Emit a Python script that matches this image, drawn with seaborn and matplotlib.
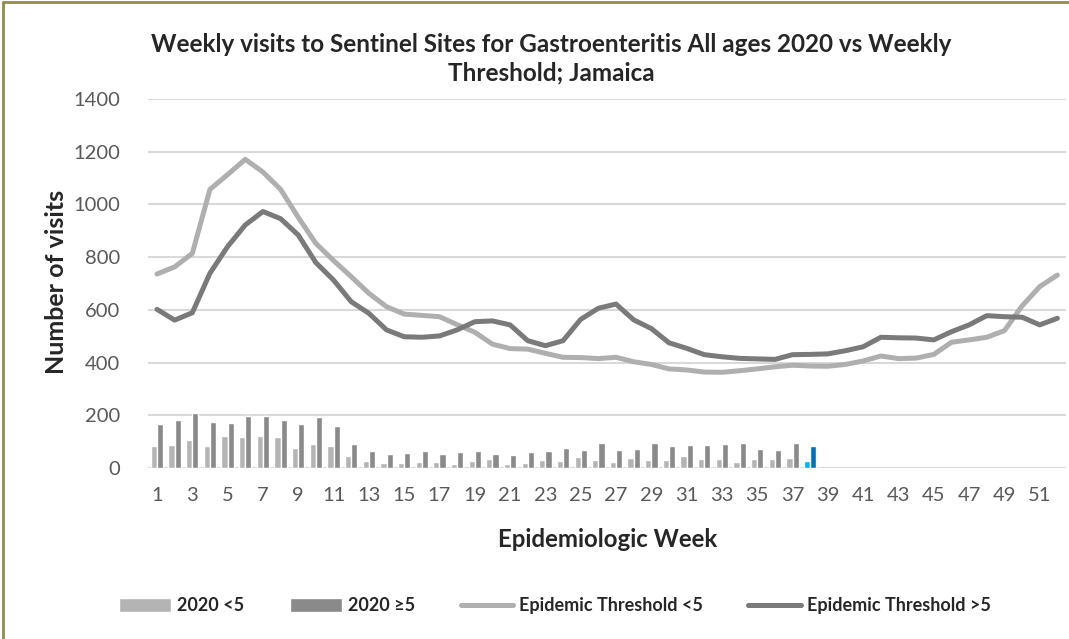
import numpy as np
import pandas as pd
import seaborn as sns
import matplotlib.pyplot as plt
from matplotlib.lines import Line2D
from matplotlib.patches import Patch

weeks = list(range(1, 53))

# 2020 weekly visits (weeks 1-38 reported)
under5_2020 = [84, 89, 107, 84, 122, 118, 121, 118, 77, 92, 84, 44, 26, 18, 18, 24, 23, 15, 26,
               33, 15, 20, 31, 28, 42, 31, 24, 39, 30, 31, 44, 36, 36, 24, 34, 35, 39, 28]
over5_2020 = [166, 182, 209, 175, 172, 199, 196, 182, 167, 194, 160, 91, 65, 55, 58, 64, 52, 60, 65,
              53, 50, 62, 64, 77, 69, 94, 69, 73, 96, 84, 87, 87, 91, 94, 72, 67, 94, 84]

# epidemic thresholds
threshold_under5 = [736, 763, 814, 1057, 1113, 1171, 1123, 1057, 951, 852, 787, 726, 663, 612, 584,
                    579, 574, 544, 515, 470, 453, 451, 435, 420, 419, 415, 420, 403, 393, 376, 372,
                    364, 363, 369, 376, 384, 390, 387, 386, 393, 406, 425, 415, 417, 431, 477, 486,
                    496, 521, 615, 688, 732]
threshold_over5 = [602, 561, 589, 739, 840, 922, 973, 946, 884, 779, 713, 631, 587, 524, 498, 496,
                   501, 524, 555, 558, 543, 483, 464, 483, 564, 606, 622, 562, 529, 475, 454, 430,
                   422, 416, 414, 412, 430, 431, 433, 445, 460, 496, 494, 493, 486, 517, 543, 578,
                   574, 572, 543, 568]

sns.set_theme(style="white")
plt.rcParams["font.family"] = ["Lato", "DejaVu Sans"]

fig = plt.figure(figsize=(10.69, 6.39), dpi=100)
ax = fig.add_axes([0.1386, 0.2676, 0.8588, 0.5775])

n = len(under5_2020)
bars = pd.DataFrame({
    "Week": [str(w) for w in weeks[:n]] * 2,
    "Visits": under5_2020 + over5_2020,
    "Group": ["2020 <5"] * n + ["2020 ≥5"] * n,
})
sns.barplot(data=bars, x="Week", y="Visits", hue="Group", order=[str(w) for w in weeks],
            palette=["#B4B4B4", "#8A8A8A"], width=0.7, saturation=1, legend=False, ax=ax)

# latest week highlighted in blue
ax.containers[0][n - 1].set_facecolor("#00B0F0")
ax.containers[1][n - 1].set_facecolor("#0070C0")

pos = np.arange(len(weeks))
sns.lineplot(x=pos, y=threshold_under5, color="#AFAFAF", lw=3.6, ax=ax,
             solid_joinstyle="round", solid_capstyle="round")
sns.lineplot(x=pos, y=threshold_over5, color="#7A7A7A", lw=3.6, ax=ax,
             solid_joinstyle="round", solid_capstyle="round")

ax.set_xlim(-0.5, len(weeks) - 0.5)
ax.set_ylim(0, 1400)
ax.set_yticks(range(0, 1401, 200))
ax.set_xticks(pos)
ax.set_xticklabels([str(w) if w % 2 == 1 else "" for w in weeks])
ax.tick_params(axis="both", length=0, labelsize=14.5, labelcolor="#595959")
ax.tick_params(axis="x", pad=14)
ax.tick_params(axis="y", pad=20)
ax.yaxis.grid(True, color="#D9D9D9", lw=1.5)
ax.set_axisbelow(True)
sns.despine(ax=ax, left=True, bottom=True)
ax.set_xlabel("")
ax.set_ylabel("")

fig.text(0.516, 0.908, "Weekly visits to Sentinel Sites for Gastroenteritis All ages 2020 vs Weekly\nThreshold; Jamaica",
         ha="center", va="center", fontsize=17.5, fontweight="bold", linespacing=1.3)
fig.text(0.0533, 0.5587, "Number of visits", rotation=90, ha="center", va="center",
         fontsize=18, fontweight="bold")
fig.text(0.568, 0.155, "Epidemiologic Week", ha="center", va="center",
         fontsize=17.3, fontweight="bold")

handles = [
    Patch(facecolor="#B4B4B4", label="2020 <5"),
    Patch(facecolor="#8A8A8A", label="2020 ≥5"),
    Line2D([], [], color="#AFAFAF", lw=3.6, solid_capstyle="round", label="Epidemic Threshold <5"),
    Line2D([], [], color="#7A7A7A", lw=3.6, solid_capstyle="round", label="Epidemic Threshold >5"),
]
fig.legend(handles=handles, loc="center", bbox_to_anchor=(0.519, 0.052), ncol=4, frameon=False,
           prop={"size": 13, "weight": "bold"}, handlelength=2.9, handleheight=0.75,
           handletextpad=0.35, columnspacing=2.5)

# olive frame on the top and left edges
fig.add_artist(Line2D([0.0025, 0.0025], [0, 0.997], transform=fig.transFigure, color="#948A54", lw=2))
fig.add_artist(Line2D([0.0025, 1], [0.997, 0.997], transform=fig.transFigure, color="#948A54", lw=2))

fig.savefig("out.png", dpi=100)
